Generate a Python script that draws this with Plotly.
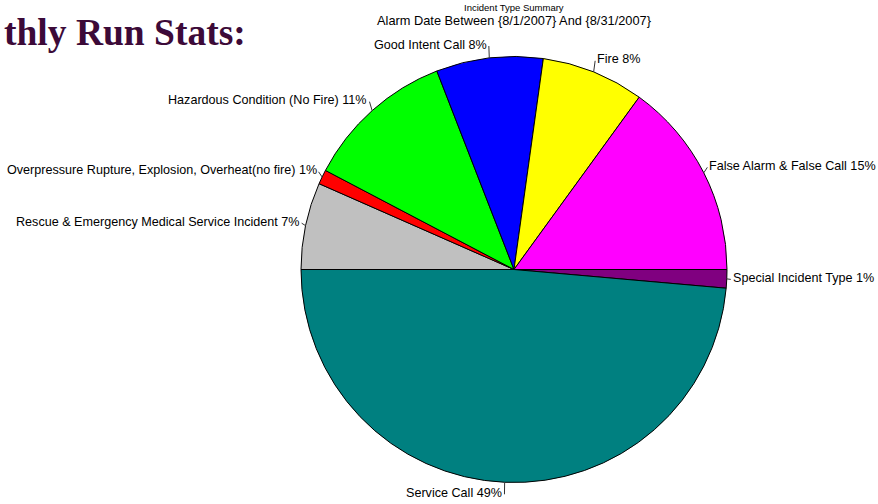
import math
import plotly.graph_objects as go

# ---- data (clockwise from 3 o'clock) ----
labels = [
    "Special Incident Type",
    "Service Call",
    "Rescue & Emergency Medical Service Incident",
    "Overpressure Rupture, Explosion, Overheat(no fire)",
    "Hazardous Condition (No Fire)",
    "Good Intent Call",
    "Fire",
    "False Alarm & False Call",
]
values = [1.4, 48.6, 6.6, 1.1, 11.4, 8.1, 7.8, 15.0]
colors = ["#800080", "#008080", "#C0C0C0", "#FF0000", "#00FF00", "#0000FF", "#FFFF00", "#FF00FF"]

title_small = "Incident Type Summary"
title_main = "Alarm Date Between {8/1/2007} And {8/31/2007}"
slide_title = "thly Run Stats:"

# ---- layout geometry ----
W, H = 878, 504
cx, cy, R = 514, 269.5, 213
LRX, LRY = 217, 225   # label ring (slightly oval, like the original)
FONT = "Arial, Liberation Sans, sans-serif"

fig = go.Figure(go.Pie(
    labels=labels,
    values=values,
    sort=False,
    direction="clockwise",
    rotation=90,
    marker=dict(colors=colors, line=dict(color="#000000", width=1)),
    textinfo="none",
    hoverinfo="label+percent",
    showlegend=False,
    domain=dict(x=[(cx - R) / W, (cx + R) / W], y=[1 - (cy + R) / H, 1 - (cy - R) / H]),
))

def px(x):
    return x / W

def py(y):
    return 1 - y / H

total = sum(values)
shapes = []
annotations = []
cum = 0.0
for lab, v in zip(labels, values):
    mid = (cum + v / 2) / total * 2 * math.pi
    cum += v
    ux, uy = math.cos(mid), math.sin(mid)
    x0, y0 = cx + R * ux, cy + R * uy
    x1, y1 = cx + LRX * ux, cy + LRY * uy
    shapes.append(dict(type="line", xref="paper", yref="paper",
                       x0=px(x0), y0=py(y0), x1=px(x1), y1=py(y1),
                       line=dict(color="#333333", width=1)))
    pct = round(v / total * 100)
    annotations.append(dict(
        xref="paper", yref="paper", x=px(x1), y=py(y1 - 1.5),
        text=f"{lab} {pct}%", showarrow=False,
        xanchor="left" if ux >= 0 else "right", yanchor="middle",
        font=dict(family=FONT, size=12.6, color="#000000"),
    ))

annotations.append(dict(xref="paper", yref="paper", x=px(514), y=py(8), text=title_small,
                        showarrow=False, xanchor="center", yanchor="middle",
                        font=dict(family=FONT, size=9.5, color="#000000")))
annotations.append(dict(xref="paper", yref="paper", x=px(514), y=py(21), text=title_main,
                        showarrow=False, xanchor="center", yanchor="middle",
                        font=dict(family=FONT, size=12.8, color="#000000")))
annotations.append(dict(xref="paper", yref="paper", x=px(2), y=py(33), text=f"<b>{slide_title}</b>",
                        showarrow=False, xanchor="left", yanchor="middle",
                        font=dict(family="Liberation Serif, Times New Roman, serif", size=37.5, color="#3C0A38")))

fig.update_layout(
    width=W, height=H,
    margin=dict(l=0, r=0, t=0, b=0, autoexpand=False),
    paper_bgcolor="#FFFFFF",
    plot_bgcolor="#FFFFFF",
    shapes=shapes,
    annotations=annotations,
)

fig.write_html(
    "out.html",
    config={"displayModeBar": False},
    post_script="document.body.style.margin='0';document.body.style.padding='0';document.body.style.overflow='hidden';",
)
